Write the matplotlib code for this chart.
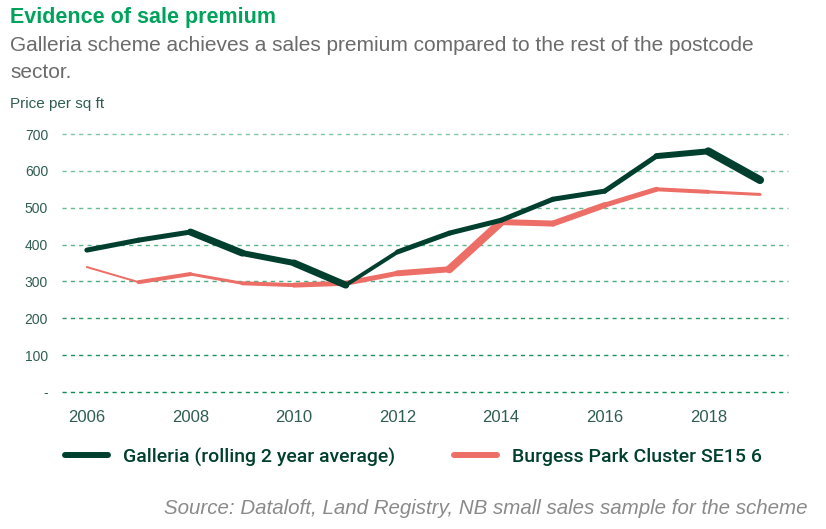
import matplotlib.pyplot as plt
from matplotlib.lines import Line2D

plt.rcParams['font.family'] = ['Liberation Sans', 'DejaVu Sans']

# data (price per sq ft)
years = list(range(2006, 2020))
galleria = [385, 412, 434, 377, 350, 290, 380, 431, 466, 523, 545, 640, 653, 575]
burgess = [339, 298, 320, 295, 290, 295, 322, 333, 461, 457, 507, 550, 543, 536]
xticks = [2006, 2008, 2010, 2012, 2014, 2016, 2018]
yticks = [0, 100, 200, 300, 400, 500, 600, 700]
ytick_labels = ['-', '100', '200', '300', '400', '500', '600', '700']

# the source drawing has uneven stroke widths, mimic per segment (px)
galleria_w = [5, 5, 7, 6, 7, 4, 5, 5, 5, 5, 5, 6, 8]
burgess_w = [2, 4, 3, 4, 5, 5, 6, 8, 6, 6, 5, 4, 3]

dark = '#003f2e'
salmon = '#ec6e66'
tick_col = '#2f5d52'

fig = plt.figure(figsize=(8.26, 5.29), dpi=100)
ax = fig.add_axes([62 / 826, 1 - 392 / 529, (788 - 62) / 826, (392 - 134) / 529])

grid_cols = ['#0a8f4d', '#1a955a', '#2a9c64', '#4aad7e', '#5cb58a', '#68bb93', '#74c09c', '#80c6a5']
for y, c in zip(yticks, grid_cols):
    ax.axhline(y, color=c, lw=1.0, ls=(0, (3, 3)), zorder=1, clip_on=False)

for i in range(len(years) - 1):
    ax.plot(years[i:i + 2], burgess[i:i + 2], color=salmon, lw=burgess_w[i] * 0.72,
            solid_capstyle='round', zorder=2)
for i in range(len(years) - 1):
    ax.plot(years[i:i + 2], galleria[i:i + 2], color=dark, lw=galleria_w[i] * 0.72,
            solid_capstyle='round', zorder=3)

ax.set_xlim(2005.52, 2019.54)
ax.set_ylim(0, 700)
ax.set_xticks(xticks)
ax.set_yticks(yticks)
ax.set_yticklabels(ytick_labels)
ax.tick_params(length=0, colors=tick_col)
ax.tick_params(axis='y', labelsize=10, pad=10)
ax.tick_params(axis='x', labelsize=12, pad=13)
for s in ax.spines.values():
    s.set_visible(False)

fig.text(10 / 826, 1 - 18 / 529, 'Evidence of sale premium', color='#00a35c',
         fontsize=15.5, fontweight='bold', va='center', ha='left')
fig.text(10 / 826, 1 - 46 / 529, 'Galleria scheme achieves a sales premium compared to the rest of the postcode',
         color='#6b6b6b', fontsize=15, va='center', ha='left')
fig.text(10 / 826, 1 - 72 / 529, 'sector.', color='#6b6b6b', fontsize=15, va='center', ha='left')
fig.text(10 / 826, 1 - 104 / 529, 'Price per sq ft', color=tick_col, fontsize=11,
         va='center', ha='left')

handles = [Line2D([], [], color=dark, lw=4.3, solid_capstyle='round'),
           Line2D([], [], color=salmon, lw=4.3, solid_capstyle='round')]
fig.legend(handles, ['Galleria (rolling 2 year average)', 'Burgess Park Cluster SE15 6'],
           loc='center left', bbox_to_anchor=(65 / 826, 1 - 457 / 529), ncol=2,
           frameon=False, borderpad=0, borderaxespad=0, handlelength=2.2,
           handletextpad=0.8, columnspacing=3.0,
           prop={'family': 'Roboto', 'weight': 'medium', 'size': 14}, labelcolor=dark)

fig.text(808 / 826, 1 - 508 / 529,
         'Source: Dataloft, Land Registry, NB small sales sample for the scheme',
         color='#8a8a8a', fontsize=14.8, style='italic', ha='right', va='center')

fig.savefig('out.png', dpi=100)
